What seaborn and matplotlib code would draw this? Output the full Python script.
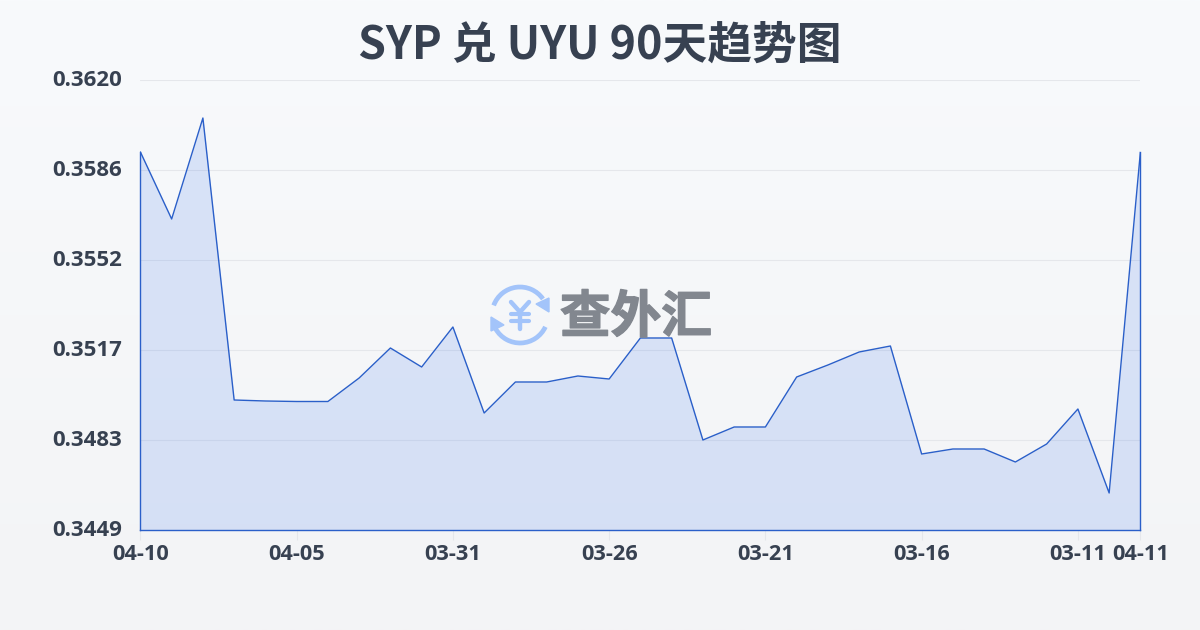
import numpy as np
import pandas as pd
import seaborn as sns
import matplotlib
matplotlib.use("Agg")
import matplotlib.pyplot as plt
import matplotlib.patheffects as pe
from matplotlib.patches import Arc, Polygon
from matplotlib.transforms import ScaledTranslation

title = "SYP 兑 UYU 90天趋势图"
watermark = "查外汇"
rates = [0.359264, 0.356718, 0.360556, 0.349840, 0.349802, 0.349783, 0.349783,
         0.350676, 0.351816, 0.351094, 0.352614, 0.349346, 0.350524, 0.350524,
         0.350752, 0.350638, 0.352196, 0.352196, 0.348320, 0.348814, 0.348814,
         0.350714, 0.351170, 0.351664, 0.351892, 0.347788, 0.347978, 0.347978,
         0.347484, 0.348168, 0.349498, 0.346306, 0.359264]
x_tick_idx = [0, 5, 10, 15, 20, 25, 30, 32]
x_tick_labels = ["04-10", "04-05", "03-31", "03-26", "03-21", "03-16", "03-11", "04-11"]
y_tick_labels = ["0.3449", "0.3483", "0.3517", "0.3552", "0.3586", "0.3620"]
y_min, y_max = 0.3449, 0.3620

sns.set_theme(style="white")
plt.rcParams['font.family'] = ['Noto Sans CJK SC', 'DejaVu Sans']
W, H = 1200, 630
fig = plt.figure(figsize=(W/100, H/100), dpi=100)

bg = fig.add_axes([0, 0, 1, 1], zorder=0)
grad = np.linspace(0, 1, 256)[:, None, None]
top = np.array([0xf8, 0xfa, 0xfc])/255
bot = np.array([0xf3, 0xf4, 0xf6])/255
bg.imshow(top*(1-grad)+bot*grad, aspect='auto', extent=[0, W, H, 0])
bg.set_xlim(0, W); bg.set_ylim(H, 0); bg.axis('off')

ax = fig.add_axes([140.4/W, 1-530/H, 1000/W, 450/H], zorder=1)
ax.patch.set_alpha(0)
df = pd.DataFrame({"i": np.arange(len(rates)), "rate": rates})
ax.fill_between(df["i"], y_min, df["rate"], color="#3b74ec", alpha=0.16, lw=0, zorder=2)
sns.lineplot(data=df, x="i", y="rate", ax=ax, color="#2a5fc9", lw=1.0, zorder=3)
ax.set_xlim(0, len(rates)-1)
ax.set_ylim(y_min, y_max)
ax.set_xlabel(""); ax.set_ylabel("")
y_ticks = np.linspace(y_min, y_max, len(y_tick_labels))
ax.set_yticks(y_ticks)
ax.set_yticklabels(y_tick_labels, fontsize=16, fontweight='bold', color="#374151", family=['Open Sans', 'DejaVu Sans'])
ax.set_xticks(x_tick_idx)
ax.set_xticklabels(x_tick_labels, fontsize=15.7, fontweight='bold', color="#374151", family=['Open Sans', 'DejaVu Sans'])
ax.tick_params(axis='y', length=0, pad=13.5)
ax.tick_params(axis='x', length=7, width=0.8, color="#e5e7eb", pad=3, bottom=True)
up = ScaledTranslation(0, 2/100, fig.dpi_scale_trans)
for lab in ax.get_yticklabels():
    lab.set_transform(lab.get_transform() + up)
ax.grid(axis='y', color="#e5e7eb", lw=0.8)
ax.set_axisbelow(True)
ax.spines["top"].set_visible(False)
for s in ["left", "right", "bottom"]:
    ax.spines[s].set_color("#2a5fc9")
    ax.spines[s].set_linewidth(1.0)
ax.spines["left"].set_bounds(y_min, rates[0])
ax.spines["right"].set_bounds(y_min, rates[-1])

fig.text(600/W, 1-46/H, title, ha='center', va='center', fontsize=32.2, fontweight='bold', color="#374151")

# watermark
ov = fig.add_axes([0, 0, 1, 1], zorder=5)
ov.set_xlim(0, W); ov.set_ylim(H, 0); ov.axis('off'); ov.patch.set_alpha(0)
logo = "#a3c4fa"
cx, cy = 520, 315
ov.add_patch(Arc((cx, cy), 56, 56, theta1=200, theta2=325, color=logo, lw=3.4))
ov.add_patch(Arc((cx, cy), 56, 56, theta1=25, theta2=150, color=logo, lw=3.4))
ov.add_patch(Polygon([(549, 298), (549, 312), (536, 304)], color=logo))
ov.add_patch(Polygon([(491, 317), (491, 331), (504, 325)], color=logo))
ov.plot([511, 520, 529], [302, 312, 302], color=logo, lw=3.2, solid_capstyle='round')
ov.plot([520, 520], [312, 329], color=logo, lw=3.2, solid_capstyle='round')
ov.plot([511, 529], [314, 314], color=logo, lw=3, solid_capstyle='round')
ov.plot([511, 529], [321, 321], color=logo, lw=3, solid_capstyle='round')
ov.text(636, 318, watermark, ha='center', va='center', fontsize=36.5, fontweight='bold', color="#82878f",
        path_effects=[pe.withStroke(linewidth=1.0, foreground="#82878f")])

fig.savefig("out.png", dpi=100)
